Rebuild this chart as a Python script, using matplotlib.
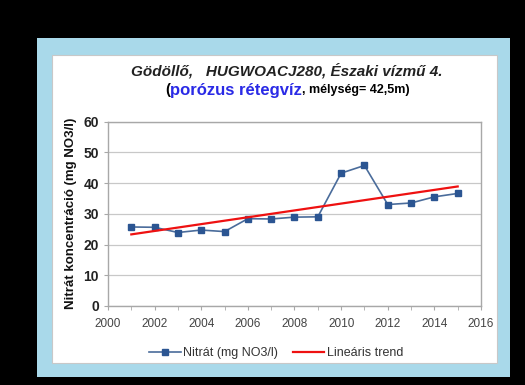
import matplotlib
matplotlib.use('Agg')
import matplotlib.pyplot as plt
import numpy as np
from matplotlib.patches import Rectangle
from matplotlib.ticker import MultipleLocator

# data
years = [2001, 2002, 2003, 2004, 2005, 2006, 2007, 2008,
         2009, 2010, 2011, 2012, 2013, 2014, 2015]
nitrat = [25.7, 25.6, 23.9, 24.7, 24.2, 28.4, 28.3, 28.9,
          29.0, 43.2, 45.7, 33.0, 33.5, 35.5, 36.6]
title1 = 'Gödöllő,   HUGWOACJ280, Északi vízmű 4.'
title2_parts = [('(', 'black', 10.5), ('porózus rétegvíz', '#2a2ae6', 12),
                (', mélység= 42,5m)', 'black', 9)]
ylabel = 'Nitrát koncentráció (mg NO3/l)'
label_series = 'Nitrát (mg NO3/l)'
label_trend = 'Lineáris trend'

plt.rcParams['font.family'] = ['Liberation Sans', 'DejaVu Sans']

fig = plt.figure(figsize=(5.25, 3.85), dpi=100, facecolor='black')

# light blue frame and white chart area
fig.patches.append(Rectangle((0.0705, 0.0208), 0.9009, 0.8805, transform=fig.transFigure,
                             facecolor='#a9d9ea', edgecolor='none', zorder=-2))
fig.patches.append(Rectangle((0.099, 0.0571), 0.8477, 0.80, transform=fig.transFigure,
                             facecolor='white', edgecolor='#c8c8c8', lw=0.8, zorder=-1))

ax = fig.add_axes([0.2057, 0.2052, 0.7105, 0.4792])
ax.set_facecolor('white')

ax.plot(years, nitrat, color='#4a6c9b', lw=1.2, marker='s', markersize=5,
        markerfacecolor='#2b5592', markeredgecolor='#2b5592', label=label_series, zorder=3)

# linear trend
k, b = np.polyfit(years, nitrat, 1)
tx = np.array([years[0], years[-1]])
ax.plot(tx, k * tx + b, color='#ee1111', lw=1.6, label=label_trend, zorder=4)

ax.set_xlim(2000, 2016)
ax.set_ylim(0, 60)
ax.xaxis.set_major_locator(MultipleLocator(2))
ax.xaxis.set_minor_locator(MultipleLocator(1))
ax.yaxis.set_major_locator(MultipleLocator(10))
ax.grid(axis='y', color='#c8c8c8', lw=0.9)
ax.set_axisbelow(True)
for s in ax.spines.values():
    s.set_color('#a8a8a8')
    s.set_linewidth(1.0)
ax.tick_params(axis='x', which='both', length=3, color='#a8a8a8', labelsize=8.5,
               labelcolor='#444444', pad=6)
ax.tick_params(axis='y', length=3, color='#a8a8a8', labelsize=10, labelcolor='#222222')
for t in ax.get_yticklabels():
    t.set_fontweight('bold')
ax.set_ylabel(ylabel, fontsize=9.5, fontweight='bold', color='#111111', labelpad=5)

fig.text(0.547, 0.8156, title1, ha='center', va='center', fontsize=11,
         fontweight='bold', fontstyle='italic', color='#222222')

# second title line made of pieces with different colours
fig.canvas.draw()
r = fig.canvas.get_renderer()
texts = []
for s, c, fs in title2_parts:
    texts.append(fig.text(0, 0.7662, s, ha='left', va='center', fontsize=fs,
                          fontweight='bold', color=c))
widths = [t.get_window_extent(r).width for t in texts]
x = 287 - sum(widths) / 2
for t, w in zip(texts, widths):
    t.set_x(x / 525)
    x += w

leg = fig.legend(loc='center', bbox_to_anchor=(0.526, 0.0831), ncol=2, frameon=False,
                 fontsize=9, handlelength=2.5, columnspacing=1.2, handletextpad=0.2)
for t in leg.get_texts():
    t.set_color('#333333')

fig.savefig('out.png', dpi=100, facecolor='black')
